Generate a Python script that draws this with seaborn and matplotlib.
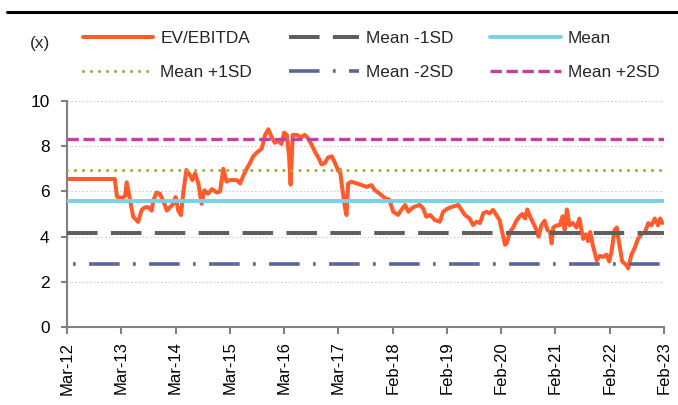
import matplotlib
matplotlib.use("Agg")
import matplotlib.pyplot as plt
from matplotlib.lines import Line2D
import seaborn as sns
import pandas as pd

# ---------------- data ----------------
# position along the time axis, in years since Mar-12 (axis is evenly spaced per year)
period_pos = [
    0.00, 0.88, 0.92, 0.95, 1.01, 1.07, 1.10, 1.14, 1.19, 1.22, 1.28, 1.31, 1.38, 1.44, 1.50,
    1.56, 1.59, 1.65, 1.71, 1.77, 1.84, 1.90, 1.96, 2.00, 2.05, 2.10, 2.14, 2.20, 2.27, 2.31,
    2.36, 2.42, 2.48, 2.53, 2.60, 2.67, 2.76, 2.82, 2.88, 2.94, 3.00, 3.13, 3.19, 3.25, 3.31,
    3.37, 3.43, 3.49, 3.59, 3.65, 3.71, 3.77, 3.83, 3.89, 3.95, 4.00, 4.05, 4.09, 4.12, 4.16,
    4.23, 4.32, 4.38, 4.44, 4.51, 4.57, 4.63, 4.69, 4.75, 4.81, 4.88, 4.94, 5.00, 5.03, 5.06,
    5.12, 5.15, 5.18, 5.24, 5.34, 5.43, 5.52, 5.61, 5.67, 5.76, 5.86, 5.94, 6.01, 6.10, 6.16,
    6.23, 6.29, 6.35, 6.41, 6.50, 6.56, 6.62, 6.69, 6.78, 6.87, 6.93, 7.02, 7.11, 7.21, 7.27,
    7.33, 7.42, 7.48, 7.55, 7.61, 7.67, 7.73, 7.79, 7.85, 7.91, 7.97, 8.07, 8.10, 8.16, 8.22,
    8.28, 8.34, 8.39, 8.44, 8.48, 8.53, 8.59, 8.65, 8.69, 8.74, 8.80, 8.85, 8.90, 8.93, 8.96,
    9.02, 9.08, 9.13, 9.17, 9.21, 9.26, 9.32, 9.39, 9.44, 9.48, 9.51, 9.56, 9.60, 9.64, 9.69,
    9.76, 9.82, 9.88, 9.94, 9.99, 10.03, 10.09, 10.13, 10.18, 10.23, 10.30, 10.34, 10.40, 10.46,
    10.52, 10.58, 10.65, 10.71, 10.77, 10.83, 10.89, 10.93, 10.97,
]
ev_ebitda = [
    6.55, 6.55, 5.77, 5.75, 5.70, 5.80, 6.40, 5.90, 5.30, 4.88, 4.73, 4.65, 5.20, 5.30, 5.30,
    5.15, 5.60, 5.95, 5.90, 5.60, 5.15, 5.30, 5.45, 5.75, 5.15, 4.95, 5.90, 6.95, 6.70, 6.50,
    6.80, 6.35, 5.45, 6.05, 5.90, 6.10, 5.95, 6.00, 7.00, 6.43, 6.50, 6.50, 6.35, 6.70, 7.00,
    7.25, 7.55, 7.70, 7.90, 8.50, 8.75, 8.40, 8.15, 8.25, 8.10, 8.60, 8.50, 7.60, 6.30, 8.50,
    8.50, 8.40, 8.50, 8.35, 8.05, 7.75, 7.50, 7.20, 7.25, 7.50, 7.55, 7.25, 6.90, 6.95, 6.35,
    5.30, 4.95, 6.35, 6.43, 6.35, 6.28, 6.20, 6.28, 6.06, 5.90, 5.70, 5.63, 5.10, 4.96, 5.18,
    5.40, 5.10, 5.25, 5.33, 5.40, 5.25, 4.88, 4.96, 4.73, 4.66, 5.10, 5.25, 5.33, 5.40, 5.18,
    4.96, 4.80, 4.51, 4.66, 4.60, 5.03, 5.10, 5.03, 5.18, 4.96, 4.73, 3.64, 3.70, 4.20, 4.40,
    4.70, 4.90, 5.00, 4.80, 5.20, 4.90, 4.60, 4.30, 4.00, 4.50, 4.70, 4.30, 4.20, 3.70, 4.40,
    4.50, 4.50, 4.90, 4.30, 5.20, 4.50, 4.60, 4.40, 4.80, 4.30, 3.90, 4.10, 3.80, 4.20, 3.60,
    2.95, 3.15, 3.10, 3.20, 2.90, 3.30, 4.30, 4.40, 3.60, 2.90, 2.75, 2.60, 3.20, 3.50,
    3.90, 4.10, 4.20, 4.60, 4.50, 4.80, 4.50, 4.80, 4.60,
]
tick_pos = [0, 1, 2, 3, 4, 5, 6, 7, 8, 9, 10, 11]
tick_labels = ["Mar-12", "Mar-13", "Mar-14", "Mar-15", "Mar-16", "Mar-17",
               "Feb-18", "Feb-19", "Feb-20", "Feb-21", "Feb-22", "Feb-23"]
band_labels = ["Mean -1SD", "Mean", "Mean +1SD", "Mean -2SD", "Mean +2SD"]
band_values = [4.18, 5.56, 6.94, 2.80, 8.32]
series_label = "EV/EBITDA"
unit_label = "(x)"

# ---------------- style ----------------
sns.set_theme(style="white")
plt.rcParams["font.family"] = ["Liberation Sans", "DejaVu Sans"]
plt.rcParams["lines.scale_dashes"] = False

W, H = 678, 405
fig = plt.figure(figsize=(W / 100, H / 100), dpi=100)
ax = fig.add_axes([67 / W, 1 - 327 / H, (664 - 67) / W, (327 - 101) / H])

df = pd.DataFrame({"pos": period_pos, "val": ev_ebitda})
sns.lineplot(data=df, x="pos", y="val", ax=ax, color="#FF5B2B", lw=2.9,
             label=series_label, zorder=3, legend=False)

band_styles = {
    "Mean -1SD": dict(color="#5F5F5F", lw=2.9, ls=(0, (22, 9.6)), dash_capstyle="butt"),
    "Mean": dict(color="#7DCFE4", lw=2.8, ls="-"),
    "Mean +1SD": dict(color="#A9AD3B", lw=2.3, ls=(0, (0.01, 5.76)), dash_capstyle="round"),
    "Mean -2SD": dict(color="#5A6698", lw=2.6, ls=(38.9, (2, 9.6, 22, 9.6)), dash_capstyle="butt"),
    "Mean +2SD": dict(color="#C0439B", lw=2.4, ls=(0, (8.2, 3.3)), dash_capstyle="butt"),
}
band_lines = {}
for lab, val in zip(band_labels, band_values):
    band_lines[lab] = ax.axhline(val, label=lab, zorder=4, **band_styles[lab])

ax.set_xlim(tick_pos[0], tick_pos[-1])
ax.set_ylim(0, 10)
ax.set_yticks([0, 2, 4, 6, 8, 10])
ax.set_xticks(tick_pos)
ax.set_xticklabels(tick_labels, rotation=90)
ax.set_xlabel("")
ax.set_ylabel("")

ax.yaxis.grid(True, color="#CFCFCF", lw=0.8, ls=(0, (1.2, 1.5)), zorder=0)
ax.xaxis.grid(False)
ax.set_axisbelow(True)
for s in ["top", "right"]:
    ax.spines[s].set_visible(False)
for s in ["left", "bottom"]:
    ax.spines[s].set_color("#808080")
    ax.spines[s].set_linewidth(1.5)
ax.tick_params(axis="y", direction="out", length=4.5, width=1.5, color="#808080",
               pad=8, labelsize=12.4, labelcolor="black", left=True)
ax.tick_params(axis="x", direction="out", length=5, width=1.5, color="#808080",
               pad=5.5, labelsize=12, labelcolor="black", bottom=True)

# legend handles (same styles; -2SD handle starts with its dash as in the reference)
def proxy(lab, **over):
    st = dict(band_styles[lab])
    st.update(over)
    return Line2D([], [], label=lab, **st)

ev_line = ax.get_lines()[0]
order = [ev_line, proxy("Mean +1SD"), proxy("Mean -1SD"),
         proxy("Mean -2SD", ls=(0, (22, 9.6, 2, 9.6))), proxy("Mean"), proxy("Mean +2SD")]
# matplotlib fills legend columns first -> this order gives the reference rows
fig.legend(order, [h.get_label() for h in order], ncol=3, loc="upper left",
           bbox_to_anchor=(83 / W, 1 - 30.5 / H), frameon=False, borderpad=0,
           borderaxespad=0, handlelength=4.07, handletextpad=0.41,
           columnspacing=2.15, labelspacing=1.13, fontsize=12.4)

fig.text(40 / W, 1 - 43.5 / H, unit_label, ha="center", va="center", fontsize=12.4)
fig.add_artist(Line2D([7 / W, 1.0], [1 - 11.5 / H] * 2, color="black", lw=2.2))

fig.savefig("out.png", dpi=100)
